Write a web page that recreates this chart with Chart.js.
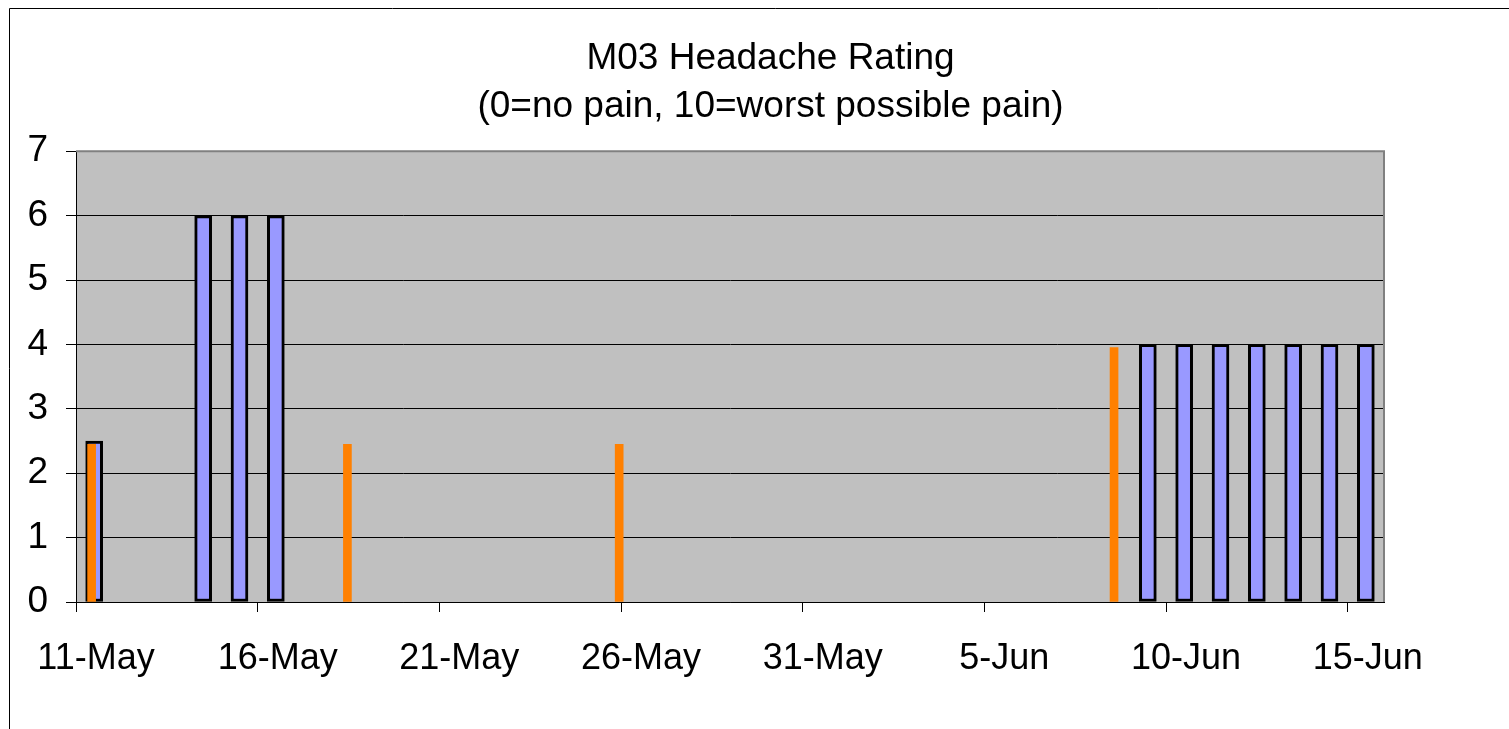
<!DOCTYPE html>
<html>
<head>
<meta charset="utf-8">
<script src="https://cdn.jsdelivr.net/npm/chart.js@4/dist/chart.umd.min.js"></script>
<style>
  html, body { margin: 0; padding: 0; background: #fff; overflow: hidden; }
  #wrap { position: absolute; left: 0; top: 0; width: 1541px; height: 729px; }
</style>
</head>
<body>
<div id="wrap"><canvas id="headacheChart"></canvas></div>
<script>
// headache rating per day (blue bars)
const ratingDates = ['05-11', '05-14', '05-15', '05-16', '06-09', '06-10', '06-11', '06-12', '06-13', '06-14', '06-15'];
const ratingValues = [2.5, 6, 6, 6, 4, 4, 4, 4, 4, 4, 4];

// orange markers, position in days after 11-May
const markerDays = [0.43, 7.47, 14.95, 28.57];
const markerValues = [2.45, 2.45, 2.45, 3.95];

// x axis labels, every 5 days from 11-May
const tickDays = [0, 5, 10, 15, 20, 25, 30, 35];
const tickLabels = ['11-May', '16-May', '21-May', '26-May', '31-May', '5-Jun', '10-Jun', '15-Jun'];

const yTicks = [0, 1, 2, 3, 4, 5, 6, 7];

const dayIndex = (md) => {
  const parts = md.split('-');
  return (Date.UTC(2008, +parts[0] - 1, +parts[1]) - Date.UTC(2008, 4, 11)) / 864e5;
};

const ratingPoints = ratingDates.map((d, i) => ({x: dayIndex(d) + 0.5, y: ratingValues[i]}));
const markerPoints = markerDays.map((d, i) => ({x: d, y: markerValues[i]}));

const fontFamily = "'Liberation Sans', Arial, sans-serif";

// grey plot area, grey frame on top and right, outer chart border
const frame = {
  id: 'frame',
  beforeDraw(chart) {
    const c = chart.ctx;
    const a = chart.chartArea;
    c.save();
    c.fillStyle = '#ffffff';
    c.fillRect(0, 0, chart.width, chart.height);
    c.strokeStyle = '#000000';
    c.lineWidth = 1;
    c.beginPath();
    c.moveTo(9.5, chart.height);
    c.lineTo(9.5, 8.5);
    c.lineTo(chart.width, 8.5);
    c.stroke();
    c.fillStyle = '#c0c0c0';
    c.fillRect(a.left, a.top, a.right - a.left, a.bottom - a.top);
    c.restore();
  },
  afterDatasetsDraw(chart) {
    const c = chart.ctx;
    const a = chart.chartArea;
    c.save();
    c.strokeStyle = '#808080';
    c.lineWidth = 2;
    c.beginPath();
    c.moveTo(a.left, a.top);
    c.lineTo(a.right, a.top);
    c.lineTo(a.right, a.bottom);
    c.stroke();
    c.restore();
  }
};

const ctx = document.getElementById('headacheChart');
const config = {
  type: 'bar',
  data: {
    datasets: [
      {
        label: 'Marker',
        data: markerPoints,
        backgroundColor: '#ff8000',
        borderWidth: 0,
        barThickness: 8,
        grouped: false
      },
      {
        label: 'Headache Rating',
        data: ratingPoints,
        backgroundColor: '#9999ff',
        borderColor: '#000000',
        borderWidth: 3,
        borderSkipped: false,
        barThickness: 17,
        grouped: false
      }
    ]
  },
  plugins: [frame],
  options: {
    responsive: false,
    animation: false,
    devicePixelRatio: 1,
    layout: {
      padding: {left: 0, right: 0, top: 0, bottom: 0}
    },
    plugins: {
      legend: {display: false},
      tooltip: {enabled: false},
      title: {
        display: true,
        text: ['M03 Headache Rating', '(0=no pain, 10=worst possible pain)'],
        color: '#000000',
        font: {family: fontFamily, size: 37, weight: 'normal', lineHeight: 1.3},
        padding: {top: 35, bottom: 20}
      }
    },
    scales: {
      x: {
        type: 'linear',
        min: 0,
        max: 36,
        offset: false,
        afterBuildTicks: (scale) => {
          scale.ticks = tickDays.map(v => ({value: v}));
        },
        afterFit: (scale) => {
          scale.height = 127;
          scale.paddingLeft = 0;
          scale.paddingRight = 0;
        },
        grid: {
          display: true,
          drawOnChartArea: false,
          offset: false,
          color: '#000000',
          tickLength: 10
        },
        border: {color: '#000000', width: 1},
        ticks: {
          color: '#000000',
          font: {family: fontFamily, size: 36},
          padding: 25,
          labelOffset: 20,
          maxRotation: 0,
          autoSkip: false,
          callback: (value, index) => tickLabels[index]
        }
      },
      y: {
        min: 0,
        max: 7,
        afterBuildTicks: (scale) => {
          scale.ticks = yTicks.map(v => ({value: v}));
        },
        afterFit: (scale) => {
          scale.width = 76;
          scale.paddingTop = 0;
          scale.paddingBottom = 0;
        },
        grid: {
          color: (c) => (c.tick && c.tick.value === 7) ? 'rgba(0,0,0,0)' : '#000000',
          tickColor: '#000000',
          tickLength: 10
        },
        border: {color: '#000000', width: 1},
        ticks: {
          color: '#000000',
          font: {family: fontFamily, size: 37},
          padding: 18
        }
      },
      // empty right-hand space, keeps the plot area where the original had it
      yRight: {
        position: 'right',
        display: true,
        min: 0,
        max: 7,
        grid: {display: false},
        border: {display: false},
        ticks: {display: false},
        afterFit: (scale) => {
          scale.width = 157;
          scale.paddingTop = 0;
          scale.paddingBottom = 0;
        }
      }
    }
  }
};

// canvas runs a little past the window on the right, as the original chart did
const canvas = ctx;
canvas.width = 1541;
canvas.height = 729;
const myChart = new Chart(ctx, config);
</script>
</body>
</html>
